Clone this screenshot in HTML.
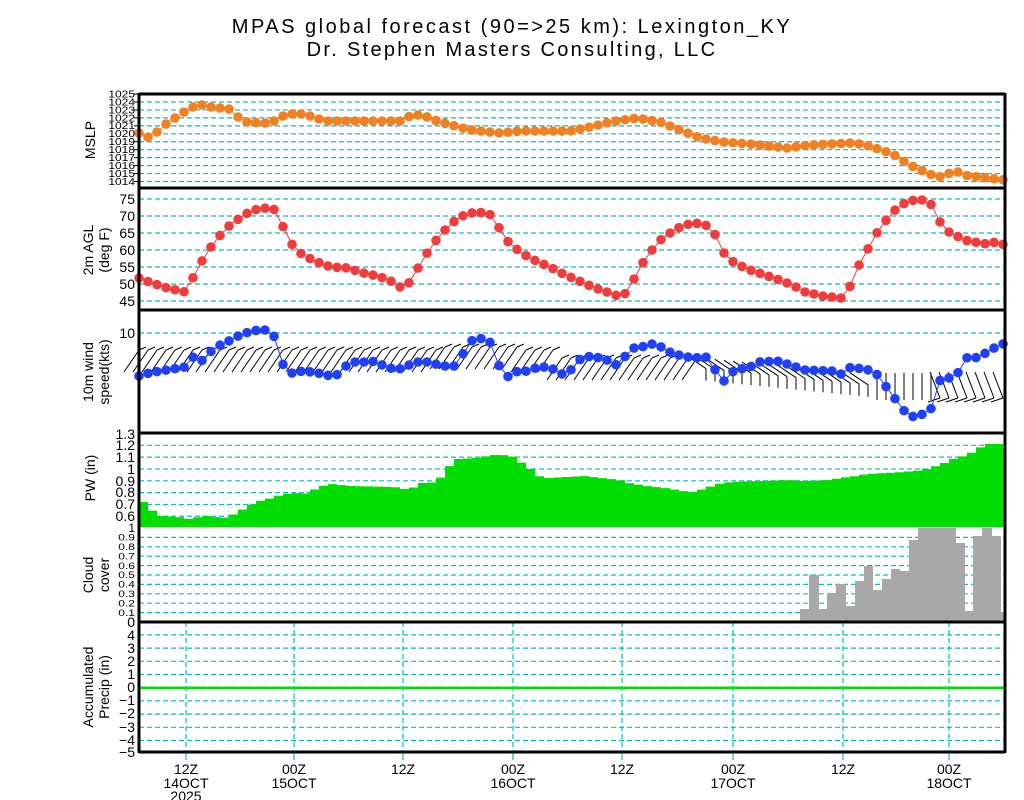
<!DOCTYPE html>
<html><head><meta charset="utf-8"><style>
html,body{margin:0;padding:0;background:#fff;}
svg{display:block;font-family:"Liberation Sans",sans-serif;}
</style></head><body>
<svg id="s" width="1024" height="800" viewBox="0 0 1024 800" xmlns="http://www.w3.org/2000/svg">
<rect width="1024" height="800" fill="#fff"/>
<text x="512" y="33" font-size="20" text-anchor="middle" letter-spacing="2.5">MPAS global forecast (90=&gt;25 km): Lexington_KY</text>
<text x="512" y="56" font-size="20" text-anchor="middle" letter-spacing="2.3">Dr. Stephen Masters Consulting, LLC</text>
<g id="grid"></g>
<g id="data"></g>
<g id="axes" stroke="#000" stroke-width="3" fill="none">
<line x1="139" y1="93" x2="139" y2="753"/>
<line x1="1005" y1="93" x2="1005" y2="753"/>
<line x1="139" y1="94" x2="1005" y2="94"/>
<line x1="139" y1="188" x2="1005" y2="188"/>
<line x1="139" y1="310" x2="1005" y2="310"/>
<line x1="139" y1="433" x2="1005" y2="433"/>
<line x1="139" y1="622" x2="1005" y2="622"/>
<line x1="139" y1="752" x2="1005" y2="752"/>
</g>
<g font-size="14" text-anchor="middle" transform="rotate(-90)">
<text x="-140" y="95">MSLP</text>
<text x="-250" y="93">2m AGL</text><text x="-250" y="109">(deg F)</text>
<text x="-372" y="93">10m wind</text><text x="-372" y="109">speed(kts)</text>
<text x="-478" y="95">PW (in)</text>
<text x="-575" y="93">Cloud</text><text x="-575" y="109">cover</text>
<text x="-687" y="93">Accumulated</text><text x="-687" y="109">Precip (in)</text>
</g>
<g font-size="14" text-anchor="middle">
<text x="186" y="774">12Z</text><text x="186" y="788">14OCT</text><text x="186" y="801">2025</text>
<text x="294" y="774">00Z</text><text x="294" y="788">15OCT</text>
<text x="403" y="774">12Z</text>
<text x="513" y="774">00Z</text><text x="513" y="788">16OCT</text>
<text x="622" y="774">12Z</text>
<text x="733" y="774">00Z</text><text x="733" y="788">17OCT</text>
<text x="843" y="774">12Z</text>
<text x="949" y="774">00Z</text><text x="949" y="788">18OCT</text>
</g>
<g id="lab" font-size="14" text-anchor="end">
<text x="135" y="204">75</text><text x="135" y="221">70</text><text x="135" y="238">65</text><text x="135" y="255">60</text><text x="135" y="272">55</text><text x="135" y="289">50</text><text x="135" y="306">45</text>
<text x="135" y="338">10</text>
<text x="135" y="439">1.3</text><text x="135" y="450">1.2</text><text x="135" y="462">1.1</text><text x="135" y="474">1</text><text x="135" y="486">0.9</text><text x="135" y="497">0.8</text><text x="135" y="509">0.7</text><text x="135" y="521">0.6</text>
<text x="135" y="640">4</text><text x="135" y="653">3</text><text x="135" y="666">2</text><text x="135" y="679">1</text><text x="135" y="692">0</text><text x="135" y="705">−1</text><text x="135" y="718">−2</text><text x="135" y="732">−3</text><text x="135" y="745">−4</text><text x="135" y="757">−5</text>
</g>
<g font-size="12" text-anchor="end" id="lab2"></g>
</svg>
<script>
var NS="http://www.w3.org/2000/svg";
function el(p,t,a){var e=document.createElementNS(NS,t);for(var k in a)e.setAttribute(k,a[k]);p.appendChild(e);return e;}
var G=document.getElementById('grid'),D=document.getElementById('data'),L2=document.getElementById('lab2');
var cy="#00c0c0";
function hl(y){el(G,'line',{x1:139,x2:1005,y1:y,y2:y,stroke:cy,'stroke-width':1.2,'stroke-dasharray':'5,3'});}
for(var p=1014;p<=1025;p++){var y=102+(1024-p)*7.95;if(p<=1024)hl(y);
 var t=el(L2,'text',{x:135,y:y+4,transform:'translate(0,'+(y)+') scale(1,0.85) translate(0,'+(-y)+')'});t.textContent=p;
 el(G,'line',{x1:134,x2:139,y1:y,y2:y,stroke:'#000'});}
[199,216,233,250,267,284,301].forEach(hl);
hl(333);
for(var v=6;v<=12;v++){hl(445.3-(v/10-1.2)*118.3);}
for(var v=1;v<=9;v++){var y=622-v*9.4;hl(y);var t=el(L2,'text',{x:135,y:y+4,transform:'translate(0,'+y+') scale(1,0.8) translate(0,'+(-y)+')'});t.textContent='0.'+v;}
var t=el(L2,'text',{x:135,y:532});t.textContent='1';
var t=el(L2,'text',{x:135,y:627,'font-size':14});t.textContent='0';
for(var v=-4;v<=4;v++){if(v!=0)hl(687.7-v*13.2);}
[186,294,403,513,622,733,843,949].forEach(function(x){el(G,'line',{x1:x,x2:x,y1:622,y2:752,stroke:cy,'stroke-width':1.2,'stroke-dasharray':'5,3'});el(G,'line',{x1:x,x2:x,y1:752,y2:760,stroke:cy,'stroke-width':1.2});});
function interp(k,x){if(x<=k[0][0])return k[0][1];for(var i=1;i<k.length;i++){if(x<=k[i][0]){var a=k[i-1],b=k[i];return a[1]+(b[1]-a[1])*(x-a[0])/(b[0]-a[0]);}}return k[k.length-1][1];}
function series(k,col){var pts=[];for(var i=0;i<=96;i++){var x=139+9*i;if(x>1004)x=1004;pts.push([x,interp(k,x)]);}
 el(D,'polyline',{points:pts.map(function(p){return p.join(',')}).join(' '),fill:'none',stroke:col,'stroke-width':1});
 pts.forEach(function(p){el(D,'circle',{cx:p[0],cy:p[1],r:4.8,fill:col});});}
var pw=[[139,501],[148,510],[157,516],[175,517],[184,519],[202,516],[220,518],[229,515],[238,510],[247,505],[256,501],[265,499],[274,496],[283,494],[292,493],[301,494],[310,490],[319,486],[328,484],[346,486],[391,487],[400,489],[409,488],[418,483],[427,483],[436,479],[445,467],[454,459],[472,458],[490,455],[499,455],[508,456],[517,462],[526,468],[535,476],[544,478],[562,477],[580,476],[598,478],[616,480],[625,483],[643,486],[661,488],[679,491],[688,492],[697,490],[706,487],[715,484],[727,482],[763,481],[783,480],[800,481],[827,480],[837,478],[853,476],[863,474],[883,473],[900,472],[920,470],[930,467],[941,463],[950,459],[964,455],[973,450],[982,444],[1000,444],[1001,449]];
var d='M139,527';for(var i=0;i<97;i++){var x=139+9*i,x2=Math.min(x+9,1005),y=interp(pw,x+1);d+=' L'+x+','+y+' L'+x2+','+y;if(x2>=1005)break;}
d+=' L1005,527 Z';el(D,'path',{d:d,fill:'#00dd00'});
var cl=[[800,809,609],[809,819,575],[819,827,609],[827,836,593],[836,846,584],[846,855,606],[855,864,581],[864,873,566],[873,882,590],[882,891,579],[891,900,569],[900,909,571],[909,918,540],[918,956,528],[956,965,543],[965,973,611],[973,982,536],[982,992,528],[992,1001,536],[1001,1005,612]];
cl.forEach(function(c){el(D,'rect',{x:c[0],y:c[2],width:c[1]-c[0],height:622-c[2],fill:'#a8a8a8'});});
el(D,'line',{x1:139,x2:1005,y1:687.7,y2:687.7,stroke:'#00dd00','stroke-width':2.5});
for(var i=0;i<=96;i++){var x=139+9*i,s;
 if(x<700){var ty=350+(x>440&&x<520?-3:0)+(x>560&&x<700?8:0);s=[[x,ty],[x-15,ty+22]];el(D,'line',{x1:x,y1:ty,x2:x+7,y2:ty-3,stroke:'#000','stroke-width':1});}
 else if(x<870){var ty=360+(x-700)*0.1;s=[[x-18,ty-4],[x,ty+8]];el(D,'line',{x1:x,y1:ty+8,x2:x,y2:ty+20,stroke:'#000','stroke-width':1});}
 else if(x<940){s=[[x,373],[x,400]];}
 else {s=[[x-10,372],[x,398]];el(D,'line',{x1:x,y1:398,x2:x-12,y2:402,stroke:'#000','stroke-width':1});}
 el(D,'line',{x1:s[0][0],y1:s[0][1],x2:s[1][0],y2:s[1][1],stroke:'#000','stroke-width':1});}
series([[139,133],[148,137],[157,132],[166,124],[175,118],[184,112],[193,107],[202,105],[211,107],[220,108],[229,109],[238,117],[247,122],[265,123],[274,121],[283,116],[292,114],[301,114],[310,116],[319,119],[328,121],[400,121],[412,115],[422,115],[440,122],[470,130],[500,133],[520,131],[570,131],[590,127],[610,122],[637,118],[660,122],[680,130],[700,138],[723,142],[750,144],[787,148],[810,145],[851,143],[860,144],[869,146],[878,149],[887,152],[896,156],[905,162],[914,167],[923,171],[932,175],[941,177],[950,173],[959,172],[968,176],[978,177],[1005,180]],'#f08020');
series([[140,278],[149,282],[158,285],[167,288],[176,290],[185,292],[194,276],[203,259],[213,244],[222,233],[231,224],[240,218],[249,212],[258,209],[267,208],[277,210],[286,235],[295,249],[303,255],[313,260],[322,264],[331,267],[349,268],[359,272],[368,274],[377,276],[386,279],[395,283],[404,290],[413,277],[422,261],[431,247],[440,235],[449,226],[458,218],[467,214],[476,212],[485,213],[494,216],[503,237],[514,247],[523,254],[532,259],[541,263],[550,267],[559,272],[568,276],[577,280],[586,284],[595,288],[604,291],[613,294],[622,298],[631,285],[640,267],[649,254],[658,242],[667,235],[676,229],[685,225],[694,223],[703,224],[712,228],[723,252],[732,261],[741,266],[750,270],[759,273],[768,276],[777,279],[787,283],[796,287],[805,292],[814,294],[823,296],[841,298],[851,285],[859,265],[869,247],[878,231],[887,219],[896,209],[905,203],[914,200],[923,200],[932,205],[941,224],[950,233],[959,237],[968,241],[987,244],[996,242],[1005,245]],'#f03c3c');
series([[140,376],[149,373],[167,370],[185,367],[194,356],[203,361],[213,349],[222,344],[231,340],[240,335],[249,332],[258,330],[267,330],[277,339],[286,377],[295,371],[313,372],[331,376],[340,374],[349,362],[368,362],[377,361],[386,368],[404,369],[413,362],[431,362],[440,366],[458,366],[467,344],[476,338],[485,339],[494,345],[503,382],[512,372],[530,371],[539,366],[557,370],[566,377],[575,364],[584,356],[602,358],[611,362],[620,367],[629,348],[638,348],[656,343],[665,350],[674,354],[692,358],[710,357],[719,380],[723,382],[732,372],[741,369],[750,367],[759,362],[777,361],[787,364],[796,367],[805,370],[832,371],[841,374],[851,367],[869,370],[878,375],[887,388],[896,400],[905,412],[914,417],[923,414],[932,408],[941,377],[950,378],[959,372],[968,356],[978,358],[987,352],[996,347],[1005,343]],'#2040f8');
</script>
</body></html>
